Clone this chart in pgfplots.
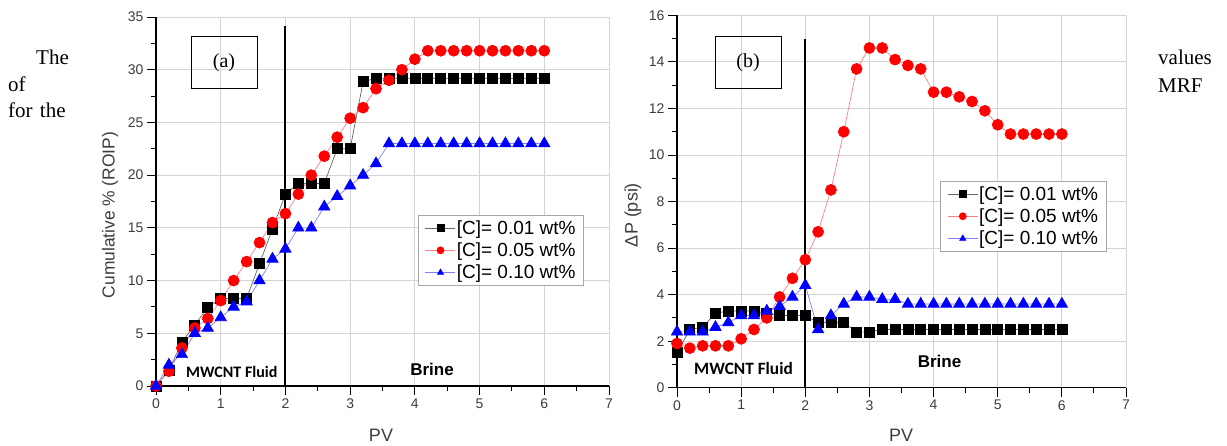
\documentclass[border=0pt]{standalone}
\usepackage{fontspec}
\setmainfont{Liberation Sans}
\newfontfamily\seriffont{Liberation Serif}
\newfontfamily\calfont{Carlito}
\usepackage{pgfplots}
\pgfplotsset{compat=1.18}

\definecolor{tickgray}{RGB}{60,60,60}
\definecolor{gridgray}{RGB}{212,212,212}

\pgfplotsset{
  panel/.style={
    scale only axis,
    axis lines*=left,
    axis line style={black, line width=1.2pt},
    xmin=0, xmax=7,
    xtick={0,...,7},
    minor x tick num=1, minor y tick num=1,
    tick align=outside,
    major tick length=9pt, minor tick length=5pt,
    tick style={black, line width=1pt},
    grid=major,
    major grid style={gridgray, line width=0.9pt},
    ticklabel style={font=\fontsize{14}{16}\selectfont, text=tickgray},
    /pgf/number format/assume math mode=true,
    clip=false,
    legend cell align=left,
    legend style={draw=gray!70, line width=0.6pt, anchor=north west,
      font=\fontsize{19}{21}\selectfont, inner xsep=7pt, inner ysep=4pt,
      row sep=5pt, nodes={inner sep=1pt}},
    legend image code/.code={
      \draw[#1, mark=none] (0pt,0pt) -- (30pt,0pt);
      \draw[#1, mark size=3.5pt] plot coordinates {(15pt,0pt)};},
  },
  s1/.style={black!60, line width=0.7pt, mark=square*, mark size=5pt, mark options={black, solid}},
  s2/.style={red!50, line width=0.7pt, mark=*, mark size=5.5pt, mark options={red}},
  s3/.style={blue!50, line width=0.7pt, mark=triangle*, mark size=6.5pt, mark options={blue}},
}

\begin{document}
\begin{tikzpicture}
\useasboundingbox (0,0) rectangle (1227pt,445pt);

% (a) cumulative oil recovery
\begin{axis}[panel, at={(156pt,59pt)}, anchor=south west,
    width=453pt, height=369pt, ymin=0, ymax=35, ytick={0,5,...,35},
    legend style={at={(0.578,0.463)}}]
  \addplot[s1] coordinates {
    (0,0) (0.2,1.5) (0.4,4.15) (0.6,5.8) (0.8,7.45) (1.0,8.3) (1.2,8.3) (1.4,8.3)
    (1.6,11.6) (1.8,14.9) (2.0,18.2) (2.2,19.2) (2.4,19.2) (2.6,19.2) (2.8,22.5)
    (3.0,22.5) (3.2,28.85) (3.4,29.2) (3.6,29.2) (3.8,29.2) (4.0,29.2) (4.2,29.2)
    (4.4,29.2) (4.6,29.2) (4.8,29.2) (5.0,29.2) (5.2,29.2) (5.4,29.2) (5.6,29.2)
    (5.8,29.2) (6.0,29.2)};
  \addlegendentry{[C]= 0.01 wt\%}
  \addplot[s2] coordinates {
    (0,0) (0.2,1.4) (0.4,3.6) (0.6,5.5) (0.8,6.4) (1.0,8.1) (1.2,10.0) (1.4,11.8)
    (1.6,13.6) (1.8,15.5) (2.0,16.35) (2.2,18.2) (2.4,20.0) (2.6,21.8) (2.8,23.6)
    (3.0,25.4) (3.2,26.4) (3.4,28.2) (3.6,29.0) (3.8,30.0) (4.0,31.0) (4.2,31.8)
    (4.4,31.8) (4.6,31.8) (4.8,31.8) (5.0,31.8) (5.2,31.8) (5.4,31.8) (5.6,31.8)
    (5.8,31.8) (6.0,31.8)};
  \addlegendentry{[C]= 0.05 wt\%}
  \addplot[s3] coordinates {
    (0,0) (0.2,2.0) (0.4,3.0) (0.6,5.0) (0.8,5.5) (1.0,6.5) (1.2,7.5) (1.4,8.0)
    (1.6,10.0) (1.8,12.05) (2.0,13.0) (2.2,15.0) (2.4,15.0) (2.6,17.0) (2.8,18.0)
    (3.0,19.0) (3.2,20.0) (3.4,21.1) (3.6,23.0) (3.8,23.0) (4.0,23.0) (4.2,23.0)
    (4.4,23.0) (4.6,23.0) (4.8,23.0) (5.0,23.0) (5.2,23.0) (5.4,23.0) (5.6,23.0)
    (5.8,23.0) (6.0,23.0)};
  \addlegendentry{[C]= 0.10 wt\%}
  \draw[black, line width=2pt] (axis cs:2,0) -- (axis cs:2,34.1);
\end{axis}

% (b) pressure drop
\begin{axis}[panel, at={(677pt,57.3pt)}, anchor=south west,
    width=449pt, height=372.3pt, ymin=0, ymax=16, ytick={0,2,...,16},
    legend style={at={(0.586,0.555)}}]
  \addplot[s1] coordinates {
    (0,1.5) (0.2,2.5) (0.4,2.6) (0.6,3.2) (0.8,3.3) (1.0,3.3) (1.2,3.3) (1.4,3.2)
    (1.6,3.1) (1.8,3.1) (2.0,3.1) (2.2,2.8) (2.4,2.8) (2.6,2.8) (2.8,2.4) (3.0,2.4)
    (3.2,2.5) (3.4,2.5) (3.6,2.5) (3.8,2.5) (4.0,2.5) (4.2,2.5) (4.4,2.5) (4.6,2.5)
    (4.8,2.5) (5.0,2.5) (5.2,2.5) (5.4,2.5) (5.6,2.5) (5.8,2.5) (6.0,2.5)};
  \addlegendentry{[C]= 0.01 wt\%}
  \addplot[s2] coordinates {
    (0,1.9) (0.2,1.7) (0.4,1.8) (0.6,1.8) (0.8,1.8) (1.0,2.1) (1.2,2.5) (1.4,3.0)
    (1.6,3.9) (1.8,4.7) (2.0,5.5) (2.2,6.7) (2.4,8.5) (2.6,11.0) (2.8,13.7)
    (3.0,14.6) (3.2,14.6) (3.4,14.1) (3.6,13.85) (3.8,13.7) (4.0,12.7) (4.2,12.7)
    (4.4,12.5) (4.6,12.3) (4.8,11.9) (5.0,11.3) (5.2,10.9) (5.4,10.9) (5.6,10.9)
    (5.8,10.9) (6.0,10.9)};
  \addlegendentry{[C]= 0.05 wt\%}
  \addplot[s3] coordinates {
    (0,2.4) (0.2,2.4) (0.4,2.4) (0.6,2.6) (0.8,2.8) (1.0,3.1) (1.2,3.1) (1.4,3.3)
    (1.6,3.5) (1.8,3.9) (2.0,4.4) (2.2,2.5) (2.4,3.1) (2.6,3.6) (2.8,3.9) (3.0,3.9)
    (3.2,3.8) (3.4,3.8) (3.6,3.6) (3.8,3.6) (4.0,3.6) (4.2,3.6) (4.4,3.6) (4.6,3.6)
    (4.8,3.6) (5.0,3.6) (5.2,3.6) (5.4,3.6) (5.6,3.6) (5.8,3.6) (6.0,3.6)};
  \addlegendentry{[C]= 0.10 wt\%}
  \draw[black, line width=2pt] (axis cs:2,0) -- (axis cs:2,15.0);
\end{axis}

% axis labels
\node[rotate=90, font=\fontsize{17.4}{19}\selectfont, text=tickgray] at (110pt,230pt) {Cumulative \% (ROIP)};
\node[rotate=90, font=\fontsize{18}{20}\selectfont, text=tickgray] at (633pt,230pt) {ΔP (psi)};
\node[font=\fontsize{18}{20}\selectfont, text=tickgray] at (381pt,10pt) {PV};
\node[font=\fontsize{18}{20}\selectfont, text=tickgray] at (901pt,10pt) {PV};

% panel tags
\node[draw, line width=1pt, minimum width=66pt, minimum height=52pt,
      font=\seriffont\fontsize{20}{22}\selectfont] at (224pt,382pt) {(a)};
\node[draw, line width=1pt, minimum width=66pt, minimum height=52pt,
      font=\seriffont\fontsize{20}{22}\selectfont] at (748pt,382pt) {(b)};

% region labels
\node[fill=white, inner sep=1pt, anchor=west, font=\calfont\bfseries\fontsize{16}{18}\selectfont] at (185pt,73pt) {MWCNT Fluid};
\node[font=\bfseries\fontsize{17}{19}\selectfont] at (432pt,76pt) {Brine};
\node[fill=white, inner sep=1pt, anchor=west, font=\calfont\bfseries\fontsize{17.3}{19}\selectfont] at (693pt,76.5pt) {MWCNT Fluid};
\node[font=\bfseries\fontsize{17}{19}\selectfont] at (939.5pt,84pt) {Brine};

% surrounding page text
\begin{scope}[every node/.style={inner sep=0pt, anchor=base west, font=\seriffont\fontsize{21}{23}\selectfont}]
  \node at (36pt,380pt) {The};
  \node at (8pt,353.3pt) {of};
  \node at (8pt,327pt) {for\hspace{2pt} the};
  \node at (1158pt,380pt) {values};
  \node at (1158pt,352pt) {MRF};
\end{scope}
\end{tikzpicture}
\end{document}
